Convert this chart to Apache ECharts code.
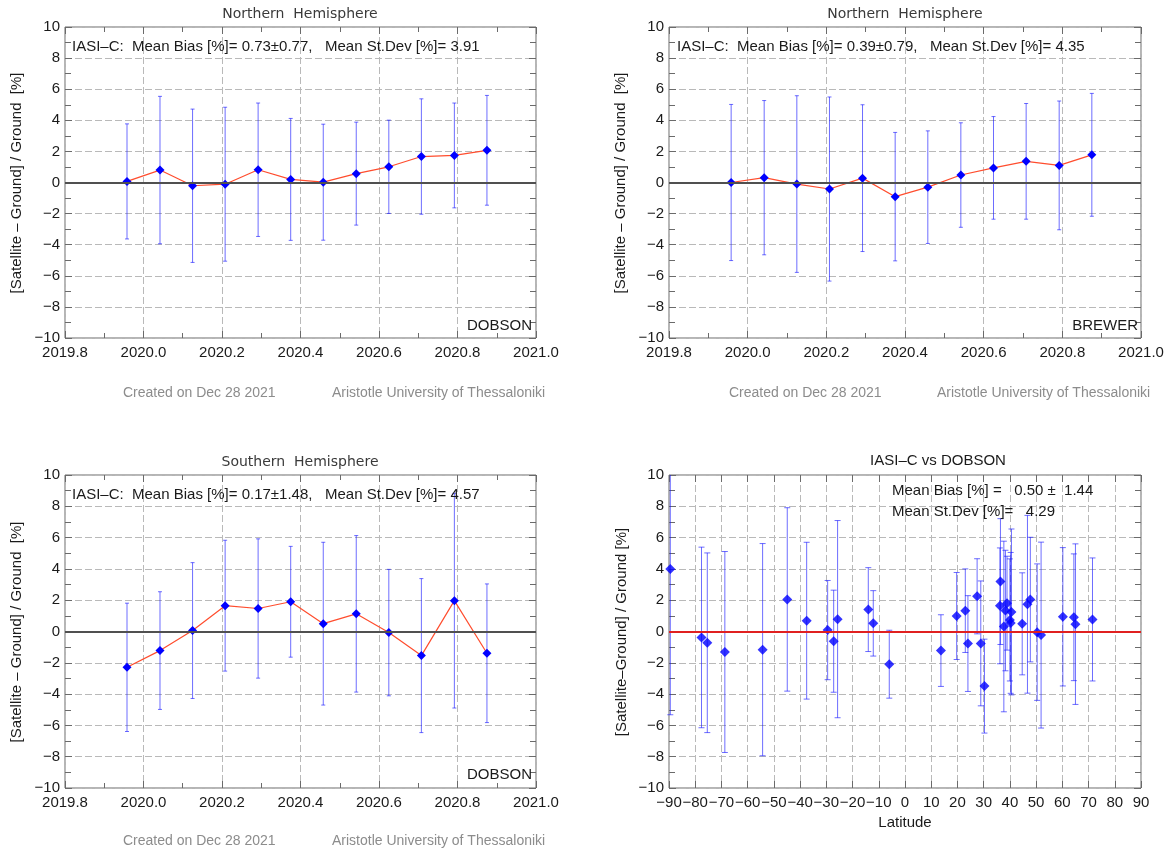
<!DOCTYPE html>
<html>
<head>
<meta charset="utf-8">
<title>IASI-C total ozone validation</title>
<script src="https://cdn.jsdelivr.net/npm/echarts@6/dist/echarts.min.js"></script>
<style>
  html, body { margin: 0; padding: 0; background: #ffffff; }
  #chart { width: 1173px; height: 855px; }
</style>
</head>
<body>
<div id="chart"></div>
<script>
// ---- data -------------------------------------------------------------
// monthly mid-points (decimal year), Dec 2019 .. Nov 2020
const months = [2019.958, 2020.042, 2020.125, 2020.208, 2020.292, 2020.375,
                2020.458, 2020.542, 2020.625, 2020.708, 2020.792, 2020.875];

// Northern Hemisphere, Dobson stations: monthly mean difference and st.dev [%]
const nhDobsonMean = [0.07, 0.80, -0.21, -0.11, 0.82, 0.20, 0.02, 0.57, 1.01, 1.67, 1.74, 2.07];
const nhDobsonSd   = [3.70, 4.74, 4.93, 4.95, 4.29, 3.92, 3.73, 3.31, 3.00, 3.71, 3.37, 3.53];

// Northern Hemisphere, Brewer stations
const nhBrewerMean = [0.00, 0.31, -0.10, -0.42, 0.28, -0.91, -0.30, 0.48, 0.94, 1.36, 1.10, 1.78];
const nhBrewerSd   = [5.02, 4.96, 5.68, 5.92, 4.72, 4.13, 3.62, 3.36, 3.30, 3.72, 4.14, 3.95];

// Southern Hemisphere, Dobson stations
const shDobsonMean = [-2.29, -1.22, 0.06, 1.65, 1.47, 1.90, 0.50, 1.13, -0.07, -1.54, 1.97, -1.39];
const shDobsonSd   = [4.10, 3.76, 4.34, 4.18, 4.45, 3.54, 5.20, 5.00, 4.04, 4.92, 6.86, 4.43];

// Per-station comparison vs latitude (Dobson network)
const stationLat  = [-89.5, -77.6, -75.4, -68.7, -54.3, -44.9, -37.5, -29.5, -27.2, -25.7,
                     -14.0, -12.1, -6.0, 13.7, 19.7, 23.0, 24.0, 27.5, 28.9, 30.3,
                     36.2, 36.4, 37.7, 38.3, 38.9, 40.0, 40.3, 40.6, 44.7, 46.7,
                     47.8, 50.4, 51.9, 60.2, 64.4, 65.0, 71.5];
const stationMean = [3.99, -0.38, -0.72, -1.31, -1.16, 2.05, 0.69, 0.09, -0.62, 0.79,
                     1.40, 0.52, -2.09, -1.22, 0.99, 1.33, -0.77, 2.25, -0.76, -3.49,
                     1.64, 3.19, 0.32, 1.34, 1.81, 0.74, 0.55, 1.25, 0.49, 1.74,
                     2.04, -0.04, -0.23, 0.94, 0.91, 0.47, 0.77];
const stationSd   = [9.31, 5.77, 5.74, 6.42, 6.78, 5.86, 5.01, 3.17, 3.26, 6.30,
                     2.68, 2.09, 2.17, 2.29, 2.78, 2.67, 3.06, 2.40, 3.99, 3.00,
                     3.70, 4.02, 5.45, 3.85, 3.00, 3.90, 4.50, 5.30, 3.26, 5.68,
                     3.98, 4.36, 5.94, 4.42, 4.05, 5.13, 3.93];

// axis settings
const Y_MIN = -10, Y_MAX = 10, Y_STEP = 2;
const T_MIN = 2019.8, T_MAX = 2021.0, T_STEP = 0.2;
const LAT_MIN = -90, LAT_MAX = 90, LAT_STEP = 10;

// ---- styling ------------------------------------------------------------
const FONT = '"Liberation Sans", Arial, Helvetica, sans-serif';
const AXIS_COL = '#6a6a6a';
const GRID_COL = '#b9b9b9';
const BAR_COL = 'rgba(20,20,255,0.62)';
const MARK_COL = '#0000ff';
const minusFix = s => String(s).replace('-', '\u2212');

const grids = [
  { left: 65,  top: 27,  width: 471, height: 311 },
  { left: 669, top: 27,  width: 472, height: 311 },
  { left: 65,  top: 475, width: 471, height: 313 },
  { left: 669, top: 475, width: 472, height: 313 }
].map(g => Object.assign({ show: true, borderColor: AXIS_COL, borderWidth: 1,
                           backgroundColor: 'transparent' }, g));

function makeX(gi, min, max, step, minor, fmt) {
  const common = { type: 'value', gridIndex: gi, min: min, max: max, interval: step,
    axisLine: { show: false, onZero: false },
    axisTick: { show: true, inside: true, length: 7, lineStyle: { color: AXIS_COL } },
    minorTick: { show: minor, splitNumber: 2, length: 5, lineStyle: { color: AXIS_COL } } };
  const main = Object.assign({}, common, { position: 'bottom',
    axisLabel: { show: true, margin: 7, fontSize: 15, color: '#1a1a1a', fontFamily: FONT,
                 formatter: fmt, showMinLabel: true, showMaxLabel: true, hideOverlap: false },
    splitLine: { show: true, lineStyle: { color: GRID_COL, width: 1, type: [7, 3] } } });
  const mirror = Object.assign({}, common, { position: 'top',
    axisLabel: { show: false }, splitLine: { show: false } });
  return [main, mirror];
}
function makeY(gi) {
  const common = { type: 'value', gridIndex: gi, min: Y_MIN, max: Y_MAX, interval: Y_STEP,
    axisLine: { show: false, onZero: false },
    axisTick: { show: true, inside: true, length: 7, lineStyle: { color: AXIS_COL } },
    minorTick: { show: true, splitNumber: 2, length: 6, lineStyle: { color: AXIS_COL } } };
  const main = Object.assign({}, common, { position: 'left',
    axisLabel: { show: true, margin: 5, fontSize: 15, color: '#1a1a1a', fontFamily: FONT,
                 formatter: v => minusFix(v), showMinLabel: true, showMaxLabel: true },
    splitLine: { show: true, lineStyle: { color: GRID_COL, width: 1, type: [7, 3] } } });
  const mirror = Object.assign({}, common, { position: 'right',
    axisLabel: { show: false }, splitLine: { show: false } });
  return [main, mirror];
}

const xAxes = [].concat(
  makeX(0, T_MIN, T_MAX, T_STEP, true, v => v.toFixed(1)),
  makeX(1, T_MIN, T_MAX, T_STEP, true, v => v.toFixed(1)),
  makeX(2, T_MIN, T_MAX, T_STEP, true, v => v.toFixed(1)),
  makeX(3, LAT_MIN, LAT_MAX, LAT_STEP, false, v => minusFix(v))
);
const yAxes = [].concat(makeY(0), makeY(1), makeY(2), makeY(3));

// vertical error bar (mean +/- st.dev) with short caps, clipped to the y range
function errorBars(capHalf) {
  return function (params, api) {
    const x = api.value(0), m = api.value(1), s = api.value(2);
    const lo = m - s, hi = m + s;
    const pLo = api.coord([x, Math.max(lo, Y_MIN)]);
    const pHi = api.coord([x, Math.min(hi, Y_MAX)]);
    const st = { stroke: BAR_COL, lineWidth: 1 };
    const kids = [{ type: 'line', shape: { x1: pLo[0], y1: pLo[1], x2: pHi[0], y2: pHi[1] }, style: st }];
    if (hi <= Y_MAX) kids.push({ type: 'line', shape: { x1: pHi[0] - capHalf, y1: pHi[1], x2: pHi[0] + capHalf, y2: pHi[1] }, style: st });
    if (lo >= Y_MIN) kids.push({ type: 'line', shape: { x1: pLo[0] - capHalf, y1: pLo[1], x2: pLo[0] + capHalf, y2: pLo[1] }, style: st });
    return { type: 'group', children: kids };
  };
}

function zeroLine(gi, color, width) {
  return { type: 'line', xAxisIndex: 2 * gi, yAxisIndex: 2 * gi, data: [], z: 1, silent: true,
    markLine: { silent: true, symbol: 'none', animation: false, label: { show: false },
                lineStyle: { color: color, width: width, type: 'solid' },
                emphasis: { disabled: true }, data: [{ yAxis: 0 }] } };
}

function monthlyPanel(gi, mean, sd) {
  return [
    zeroLine(gi, '#505050', 2),
    { type: 'custom', xAxisIndex: 2 * gi, yAxisIndex: 2 * gi, z: 2, silent: true,
      renderItem: errorBars(2), encode: { x: 0, y: 1 },
      data: months.map((t, k) => [t, mean[k], sd[k]]) },
    { type: 'line', xAxisIndex: 2 * gi, yAxisIndex: 2 * gi, z: 3, silent: true,
      symbol: 'diamond', symbolSize: 9, showSymbol: true,
      itemStyle: { color: MARK_COL }, lineStyle: { color: '#ff4d2e', width: 1.2 },
      data: months.map((t, k) => [t, mean[k]]) }
  ];
}

const series = [].concat(
  monthlyPanel(0, nhDobsonMean, nhDobsonSd),
  monthlyPanel(1, nhBrewerMean, nhBrewerSd),
  monthlyPanel(2, shDobsonMean, shDobsonSd),
  [
    zeroLine(3, '#e02020', 2),
    { type: 'custom', xAxisIndex: 6, yAxisIndex: 6, z: 2, silent: true,
      renderItem: errorBars(3), encode: { x: 0, y: 1 },
      data: stationLat.map((la, k) => [la, stationMean[k], stationSd[k]]) },
    { type: 'scatter', xAxisIndex: 6, yAxisIndex: 6, z: 3, silent: true,
      symbol: 'diamond', symbolSize: 10, itemStyle: { color: MARK_COL },
      data: stationLat.map((la, k) => [la, stationMean[k]]) }
  ]
);

// ---- texts -------------------------------------------------------------
function txt(x, y, text, opt) {
  opt = opt || {};
  const size = opt.size || 15;
  return { type: 'text', x: x, y: y, rotation: opt.rot || 0, silent: true, z: 10,
    style: { text: text, font: (opt.family ? size + 'px ' + opt.family : size + 'px ' + FONT),
             fill: opt.color || '#1a1a1a',
             align: opt.align || 'left', textAlign: opt.align || 'left',
             verticalAlign: 'middle', textVerticalAlign: 'middle' } };
}
const TITLE_FONT = '"DejaVu Sans", Verdana, sans-serif';
const FOOT = '#8c8c8c';
const yName1 = '[Satellite \u2013 Ground] / Ground  [%]';

const graphics = [
  txt(300, 14, 'Northern  Hemisphere', { align: 'center', size: 14, family: TITLE_FONT, color: '#3a3a3a' }),
  txt(905, 14, 'Northern  Hemisphere', { align: 'center', size: 14, family: TITLE_FONT, color: '#3a3a3a' }),
  txt(300, 462, 'Southern  Hemisphere', { align: 'center', size: 14, family: TITLE_FONT, color: '#3a3a3a' }),
  txt(938, 461, 'IASI\u2013C vs DOBSON', { align: 'center', size: 15 }),

  txt(72, 47, 'IASI\u2013C:  Mean Bias [%]= 0.73\u00b10.77,   Mean St.Dev [%]= 3.91'),
  txt(677, 47, 'IASI\u2013C:  Mean Bias [%]= 0.39\u00b10.79,   Mean St.Dev [%]= 4.35'),
  txt(72, 495, 'IASI\u2013C:  Mean Bias [%]= 0.17\u00b11.48,   Mean St.Dev [%]= 4.57'),
  txt(892, 491, 'Mean Bias [%] =   0.50 \u00b1  1.44'),
  txt(892, 512, 'Mean St.Dev [%]=   4.29'),

  txt(532, 326, 'DOBSON', { align: 'right' }),
  txt(1138, 326, 'BREWER', { align: 'right' }),
  txt(532, 775, 'DOBSON', { align: 'right' }),

  txt(17, 183, yName1, { align: 'center', rot: Math.PI / 2 }),
  txt(621, 183, yName1, { align: 'center', rot: Math.PI / 2 }),
  txt(17, 632, yName1, { align: 'center', rot: Math.PI / 2 }),
  txt(622, 632, '[Satellite\u2013Ground] / Ground [%]', { align: 'center', rot: Math.PI / 2 }),
  txt(905, 823, 'Latitude', { align: 'center' }),

  txt(123, 393, 'Created on Dec 28 2021', { size: 14, color: FOOT }),
  txt(332, 393, 'Aristotle University of Thessaloniki', { size: 14, color: FOOT }),
  txt(729, 393, 'Created on Dec 28 2021', { size: 14, color: FOOT }),
  txt(937, 393, 'Aristotle University of Thessaloniki', { size: 14, color: FOOT }),
  txt(123, 841, 'Created on Dec 28 2021', { size: 14, color: FOOT }),
  txt(332, 841, 'Aristotle University of Thessaloniki', { size: 14, color: FOOT })
];

const chart = echarts.init(document.getElementById('chart'), null, { renderer: 'canvas' });
chart.setOption({
  backgroundColor: '#ffffff',
  animation: false,
  textStyle: { fontFamily: FONT },
  grid: grids,
  xAxis: xAxes,
  yAxis: yAxes,
  series: series,
  graphic: graphics
});
</script>
</body>
</html>
